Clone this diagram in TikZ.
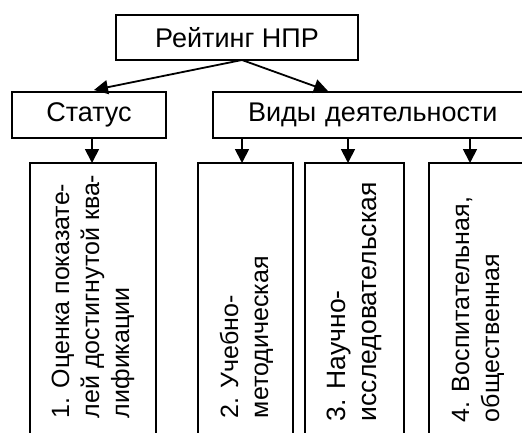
\documentclass[tikz,border=0pt]{standalone}
\usepackage{fontspec}
\setmainfont{Liberation Sans}
\usetikzlibrary{arrows.meta}
\begin{document}
\begin{tikzpicture}[x=1pt,y=-1pt,
  line width=1.8pt,
  box/.style={draw,line width=1.6pt,inner sep=0pt,font=\fontsize{27}{31}\selectfont},
  vtext/.style={rotate=90,anchor=west,inner sep=0pt,align=left,font=\fontsize{25}{30}\selectfont},
  arr/.style={-{Triangle[length=14pt,width=14pt]}}]
\useasboundingbox (0,0) rectangle (522,432);
\clip (0,0) rectangle (522,432);

% top level
\node[box,minimum width=242pt,minimum height=45pt] (top) at (237,37.5) {Рейтинг НПР};

% second level
\node[box,minimum width=154pt,minimum height=46pt] (stat) at (89,115) {Статус};
\node[box,minimum width=320pt,minimum height=46pt,text width=320pt,align=left] (vid) at (373,115) {\hspace*{35pt}Виды деятельности};

\coordinate (ts) at (242,60);
\coordinate (e1) at (94,90);
\coordinate (e2) at (328,91);
\draw[arr] (ts) -- (e1);
\draw[arr] (ts) -- (e2);

% third level boxes (run past the lower edge)
\node[box,minimum width=126pt,minimum height=290pt] (b1) at (93,308) {};
\node[box,minimum width=95pt,minimum height=290pt] (b2) at (245.5,308) {};
\node[box,minimum width=99pt,minimum height=290pt] (b3) at (354.5,308) {};
\node[box,minimum width=101pt,minimum height=290pt] (b4) at (479.5,308) {};

\coordinate (a1) at (92,163);
\coordinate (a2) at (242,163);
\coordinate (a3) at (348,163);
\coordinate (a4) at (470,163);
\draw[arr] (stat.south -| a1) -- (a1);
\draw[arr] (vid.south -| a2) -- (a2);
\draw[arr] (vid.south -| a3) -- (a3);
\draw[arr] (vid.south -| a4) -- (a4);

% vertical captions
\node[vtext] (t1) at (93,419) {1. Оценка показате-\\лей достигнутой ква-\\лификации};
\node[vtext] (t2) at (246.5,419) {2. Учебно-\\методическая};
\node[vtext,font=\fontsize{26.5}{31}\selectfont] (t3) at (354,422) {3. Научно-\\исследовательская};
\node[vtext] (t4) at (478,423) {4. Воспитательная,\\общественная};
\end{tikzpicture}
\end{document}
